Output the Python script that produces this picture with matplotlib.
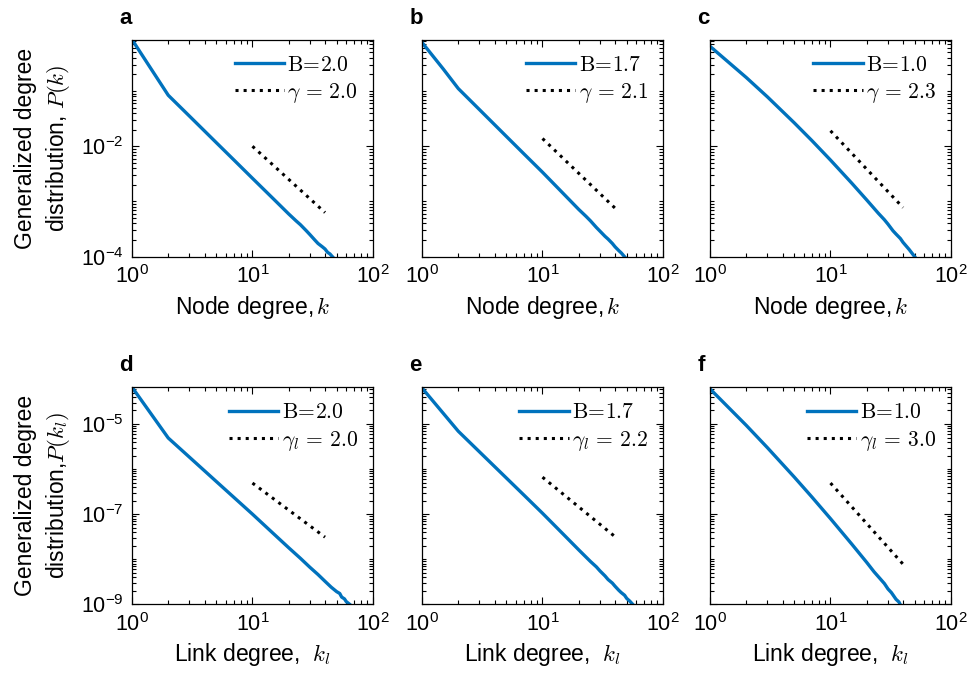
import matplotlib
matplotlib.use("Agg")
import matplotlib.pyplot as plt
import numpy as np
from matplotlib.ticker import LogLocator, FixedLocator, NullFormatter

plt.rcParams['font.family'] = ['Liberation Sans', 'DejaVu Sans']
plt.rcParams['mathtext.fontset'] = 'cm'
plt.rcParams['axes.unicode_minus'] = False

BLUE = '#0072BD'

# degree values and log10 of P(k)
k_a = [1, 2, 3, 5, 7, 10, 15, 20, 23, 25, 28, 30, 33, 35, 38, 40, 42, 44, 47]
logp_a = [-0.067, -1.076, -1.454, -1.932, -2.246, -2.58, -2.957, -3.226, -3.35, -3.42,
          -3.53, -3.60, -3.70, -3.76, -3.82, -3.86, -3.92, -3.95, -4.02]

k_b = [1, 1.5, 2, 3, 5, 7, 10, 15, 20, 23, 25, 28, 30, 33, 35, 38, 40, 43, 45, 48]
logp_b = [-0.12, -0.60, -0.955, -1.337, -1.819, -2.136, -2.47, -2.864, -3.144, -3.27, -3.35,
          -3.47, -3.537, -3.63, -3.68, -3.76, -3.82, -3.89, -3.93, -4.0]

k_c = [1, 2, 3, 5, 7, 10, 15, 20, 25, 28, 30, 33, 35, 38, 40, 43, 45, 48, 50]
logp_c = [-0.19, -0.755, -1.107, -1.575, -1.896, -2.25, -2.667, -2.973, -3.215, -3.33, -3.41,
          -3.53, -3.59, -3.67, -3.74, -3.82, -3.87, -3.95, -4.0]

k_d = [1, 2, 3, 5, 7, 10, 15, 20, 25, 30, 35, 40, 45, 50, 53, 55, 58, 60, 62, 64]
logp_d = [-4.18, -5.31, -5.736, -6.273, -6.626, -7.0, -7.437, -7.746, -7.98, -8.18, -8.34,
          -8.49, -8.62, -8.72, -8.76, -8.84, -8.88, -8.94, -8.97, -9.0]

k_e = [1, 2, 3, 5, 7, 10, 15, 20, 25, 28, 30, 33, 35, 38, 40, 43, 45, 48, 50, 53, 56]
logp_e = [-4.2, -5.16, -5.618, -6.195, -6.575, -6.98, -7.455, -7.793, -8.05, -8.17, -8.26,
          -8.37, -8.45, -8.53, -8.60, -8.69, -8.74, -8.80, -8.87, -8.93, -9.0]

k_f = [1, 2, 3, 5, 7, 10, 15, 20, 23, 25, 28, 30, 32, 35, 37, 38]
logp_f = [-4.22, -5.03, -5.527, -6.176, -6.618, -7.1, -7.663, -8.072, -8.28, -8.39, -8.54,
          -8.66, -8.74, -8.89, -8.95, -9.01]

# guide lines (k = 10 and k = 40)
k_guide = [10, 40]
logg_a = [-2.0, -3.20]
logg_b = [-1.86, -3.12]
logg_c = [-1.72, -3.11]
logg_d = [-6.31, -7.51]
logg_e = [-6.18, -7.50]
logg_f = [-6.31, -8.11]

B_labels = ['2.0', '1.7', '1.0']
gamma_top = ['2.0', '2.1', '2.3']
gamma_bot = ['2.0', '2.2', '3.0']
letters = ['a', 'b', 'c', 'd', 'e', 'f']

fig = plt.figure(figsize=(9.71, 6.87), dpi=100)

lefts = [0.1359, 0.4346, 0.7312]
bottoms = [0.6263, 0.1204]
w, h = 0.2482, 0.3162

curves = [(k_a, logp_a, logg_a), (k_b, logp_b, logg_b), (k_c, logp_c, logg_c),
          (k_d, logp_d, logg_d), (k_e, logp_e, logg_e), (k_f, logp_f, logg_f)]

for i, (k, logp, logg) in enumerate(curves):
    row, col = divmod(i, 3)
    ax = fig.add_axes([lefts[col], bottoms[row], w, h])
    ax.loglog(k, np.power(10.0, logp), color=BLUE, lw=2.4,
              label=r'$\mathrm{B\!=\!' + B_labels[col] + '}$')
    if row == 0:
        glab = r'$\gamma\,=\,' + gamma_top[col] + '$'
    else:
        glab = r'$\gamma_l\,=\,' + gamma_bot[col] + '$'
    ax.loglog(k_guide, np.power(10.0, logg), color='black', lw=2.2, ls=':', label=glab)

    ax.set_xlim(1, 100)
    if row == 0:
        ax.set_ylim(1e-4, 10 ** -0.067)
        ax.yaxis.set_major_locator(FixedLocator([1e-4, 1e-2]))
        ax.set_xlabel('Node degree,$\\,k$', fontsize=16.5, labelpad=4)
    else:
        ax.set_ylim(1e-9, 10 ** -4.18)
        ax.yaxis.set_major_locator(FixedLocator([1e-9, 1e-7, 1e-5]))
        ax.set_xlabel('Link degree,  $k_l$', fontsize=16.5, labelpad=4)
    ax.yaxis.set_minor_locator(LogLocator(base=10, subs=np.arange(1, 10), numticks=50))
    ax.yaxis.set_minor_formatter(NullFormatter())
    ax.xaxis.set_major_locator(FixedLocator([1, 10, 100]))
    ax.xaxis.set_minor_locator(LogLocator(base=10, subs=np.arange(2, 10), numticks=50))
    ax.xaxis.set_minor_formatter(NullFormatter())
    if col != 0:
        ax.set_yticklabels([])

    ax.tick_params(which='both', direction='in', top=True, right=True, width=0.8)
    ax.tick_params(which='major', length=5, labelsize=15.5, pad=6)
    ax.tick_params(which='minor', length=3)
    for s in ax.spines.values():
        s.set_linewidth(0.9)

    ax.legend(loc='upper right', frameon=False, fontsize=15.5, handlelength=2.3,
              handletextpad=0.15, labelspacing=0.25, borderaxespad=0.3)

    if col == 0:
        if row == 0:
            ylab = 'Generalized degree\ndistribution, $P(k)$'
        else:
            ylab = 'Generalized degree\ndistribution,$P(k_l)$'
        ax.set_ylabel(ylab, fontsize=16.5, linespacing=1.35)
        ax.yaxis.set_label_coords(-0.25, 0.5)

    fig.text(lefts[col] - 0.013, bottoms[row] + h + 0.016, letters[i],
             fontsize=16, fontweight='bold', ha='left', va='bottom')

fig.savefig('out.png', dpi=100)
